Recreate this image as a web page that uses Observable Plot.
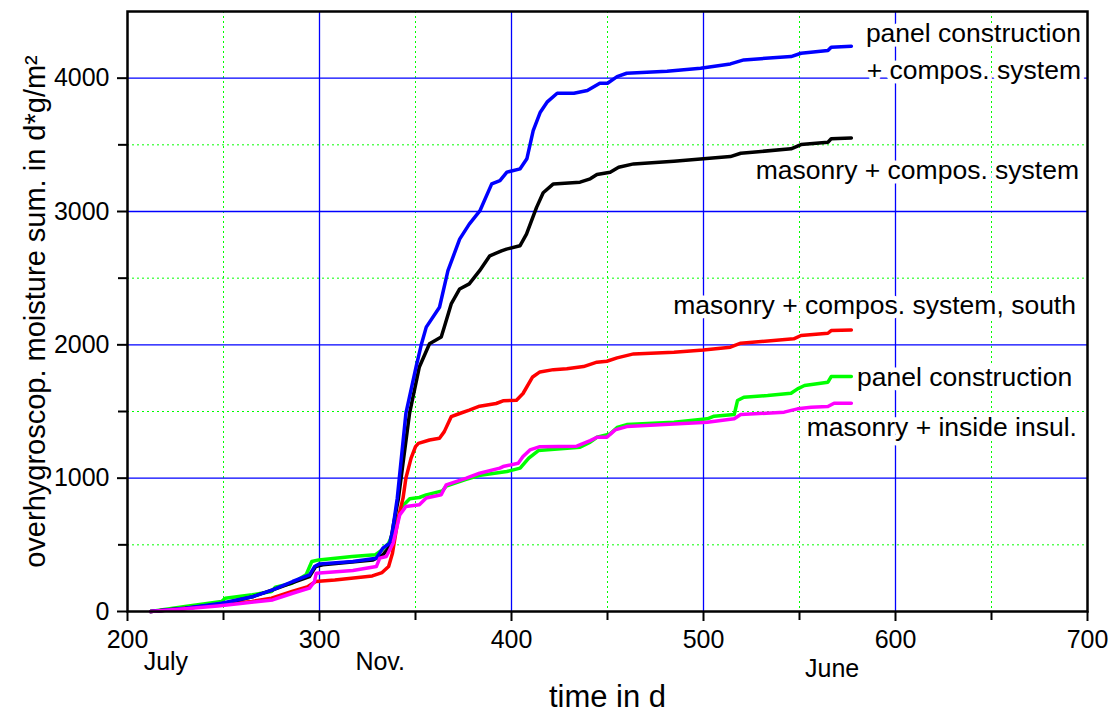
<!DOCTYPE html>
<html>
<head>
<meta charset="utf-8">
<script src="https://cdn.jsdelivr.net/npm/d3@7"></script>
<script src="https://cdn.jsdelivr.net/npm/@observablehq/plot@0.6"></script>
<style>
  html, body { margin: 0; padding: 0; background: #fff; }
  #chart { width: 1110px; height: 715px; }
</style>
</head>
<body>
<div id="chart"></div>
<script>
// ---- data ----
const xMajorTicks = [200, 300, 400, 500, 600, 700];
const xMinorTicks = [250, 350, 450, 550, 650];
const yMajorTicks = [0, 1000, 2000, 3000, 4000];
const yMinorTicks = [500, 1500, 2500, 3500];

const seriesNames = [
  "panel construction + compos. system",
  "masonry + compos. system",
  "masonry + compos. system, south",
  "panel construction",
  "masonry + inside insul."
];
const seriesColors = ["#0000ff", "#000000", "#ff0000", "#00ff00", "#ff00ff"];

const panelComposite = [[212,0],[230,25],[249,62],[265,110],[275.6,162],[286,225],[294.8,275],[297.4,337],[300,357],[317.4,375],[329.6,400],[333,475],[336.6,512],[338,600],[340.5,850],[345,1486],[350.3,1834],[353,2000],[355.6,2133],[362.5,2282],[366.9,2556],[373,2793],[378,2905],[383.5,3004],[389.7,3207],[394,3232],[397.6,3295],[404.5,3320],[408,3395],[411.3,3607],[415,3745],[418.5,3820],[423.8,3887],[432.5,3887],[439.5,3907],[446,3962],[450,3962],[455,4012],[460,4037],[481,4052],[498.5,4075],[514,4107],[521,4137],[545.6,4162],[550.8,4187],[564.8,4207],[566.5,4232],[577,4240]];

const masonryComposite = [[212,0],[230,22],[248.9,57],[265,110],[275.6,162],[286,217],[294.8,262],[298,337],[301.7,350],[327.9,387],[333,425],[336.6,487],[338.5,650],[341,838],[346.9,1486],[352,1834],[357.3,2008],[363.4,2058],[365,2133],[368.6,2307],[373,2419],[378,2457],[383.4,2556],[388.7,2668],[394.8,2705],[397.4,2718],[404.4,2743],[407.8,2830],[413,3029],[416.5,3141],[421.8,3207],[435.7,3220],[441,3245],[444.5,3277],[451.4,3295],[455.8,3332],[463.6,3357],[484.6,3377],[500,3395],[514,3412],[519.4,3437],[545.6,3470],[550.8,3502],[564.8,3520],[566.5,3545],[577,3552]];

const masonryCompositeSouth = [[212,0],[230,25],[247,50],[264.8,75],[275,100],[285.7,150],[294,187],[298,225],[308,237],[327.5,267],[332.6,292],[336,337],[338,437],[341,700],[343.5,850],[345,1000],[347.7,1150],[350,1237],[351.5,1261],[357.3,1286],[362.5,1299],[365,1349],[368.6,1461],[373,1485],[378,1510],[383.4,1540],[392,1560],[395.6,1580],[402.6,1585],[406,1635],[411,1759],[414.8,1797],[421.8,1814],[428.8,1820],[437.5,1837],[444.5,1870],[449.7,1877],[455,1902],[463.6,1932],[484.6,1945],[500,1962],[514,1982],[519.4,2012],[547,2045],[550.8,2070],[564.8,2087],[566.5,2107],[577,2112]];

const panelPlain = [[212,0],[230,37],[249,75],[250.9,100],[265,125],[275,150],[277,182],[285.7,212],[293,275],[296,375],[299.6,387],[317,412],[329,425],[332.6,462],[336,512],[339.7,637],[343,787],[347,845],[352,855],[355.6,875],[364,905],[366,940],[376,990],[383,1020],[393,1040],[397.6,1050],[404.5,1075],[409,1150],[414,1207],[435.7,1232],[441,1270],[444.5,1307],[451.4,1332],[455,1380],[460,1402],[484.6,1420],[502,1445],[505.5,1465],[516,1477],[517.7,1582],[521,1607],[533.4,1620],[545.6,1637],[549,1670],[552.6,1695],[564.8,1720],[566.5,1762],[577,1762]];

const masonryInside = [[212,0],[230,20],[247,42],[260,62],[275.6,87],[286,137],[294.8,175],[297.4,225],[298.3,287],[317.4,307],[329.6,337],[331.4,400],[334.8,412],[338.3,512],[341.8,725],[345,787],[352,800],[355.6,851],[363.4,875],[366,950],[376.5,1000],[383.4,1037],[393.9,1075],[395.6,1087],[403.5,1112],[406,1162],[409.6,1212],[414.8,1236],[434,1240],[441,1282],[444.5,1307],[449.7,1307],[454,1362],[460,1387],[484.6,1407],[502,1420],[516,1445],[519.4,1477],[542,1495],[549,1520],[556,1532],[564.8,1537],[568,1562],[577,1562]];

// curve labels (text, anchor day at right end, value)
const labelTexts = ["panel construction", "+ compos. system", "masonry + compos. system", "masonry + compos. system, south", "panel construction", "masonry + inside insul."];
const labelDays  = [696.6, 696.6, 695.6, 694, 692, 694.5];
const labelValues = [4335, 4058, 3308, 2296, 1756, 1381];

// month annotations under the x axis
const monthTexts = ["July", "Nov.", "June"];
const monthDays = [220, 331.6, 567];
const monthRow = [0, 0, 1];

const xTitle = "time in d";
const yTitle = "overhygroscop. moisture sum. in d*g/m²";

// ---- build tables ----
const drawOrder = [3, 2, 1, 0, 4];
const allSeries = [panelComposite, masonryComposite, masonryCompositeSouth, panelPlain, masonryInside];
const labels = labelTexts.map((t, i) => ({text: t, x: labelDays[i], y: labelValues[i]}));
const months = monthTexts.map((t, i) => ({text: t, x: monthDays[i], row: monthRow[i]}));

const font = "'Liberation Sans', Arial, Helvetica, sans-serif";

const lineMarks = drawOrder.map(i =>
  Plot.line(allSeries[i].map(([d, v]) => ({d, v})), {
    x: "d", y: "v", stroke: seriesColors[i], strokeWidth: 3.5,
    strokeLinejoin: "round", strokeLinecap: "round"
  })
);

const chart = Plot.plot({
  width: 1110,
  height: 715,
  marginLeft: 127,
  marginRight: 23,
  marginTop: 11,
  marginBottom: 104,
  style: {fontFamily: font, background: "#fff", color: "#000", overflow: "visible"},
  x: {domain: [200, 700]},
  y: {domain: [0, 4500]},
  marks: [
    Plot.gridX(xMinorTicks, {stroke: "#00ff00", strokeOpacity: 1, strokeWidth: 1, strokeDasharray: "2,3"}),
    Plot.gridY(yMinorTicks, {stroke: "#00ff00", strokeOpacity: 1, strokeWidth: 1, strokeDasharray: "2,3"}),
    Plot.gridX(xMajorTicks.slice(1, -1), {stroke: "#0000ff", strokeOpacity: 1, strokeWidth: 1.3}),
    Plot.gridY(yMajorTicks.slice(1), {stroke: "#0000ff", strokeOpacity: 1, strokeWidth: 1.3}),
    ...lineMarks,
    Plot.text(labels, {
      x: "x", y: "y", text: "text", textAnchor: "end",
      fontSize: 26.5, fill: "#000", stroke: "#fff", strokeWidth: 9, paintOrder: "stroke"
    }),
    Plot.frame({stroke: "#000", strokeWidth: 2.5}),
    Plot.axisX(xMajorTicks, {tickSize: 10, tickPadding: 9, fontSize: 25, strokeWidth: 2, label: null, tickFormat: d => String(d)}),
    Plot.axisX(xMinorTicks, {tickSize: 9, strokeWidth: 2, label: null, tickFormat: () => ""}),
    Plot.axisY(yMajorTicks, {tickSize: 10, tickPadding: 8, fontSize: 25, strokeWidth: 2, label: null, tickFormat: d => String(d)}),
    Plot.axisY(yMinorTicks, {tickSize: 9, strokeWidth: 2, label: null, tickFormat: () => ""}),
    Plot.text(months.filter(m => m.row === 0), {x: "x", text: "text", frameAnchor: "bottom", dy: 58, fontSize: 25}),
    Plot.text(months.filter(m => m.row === 1), {x: "x", text: "text", frameAnchor: "bottom", dy: 65, fontSize: 25}),
    Plot.text([xTitle], {text: d => d, frameAnchor: "bottom", dy: 95, fontSize: 31}),
    Plot.text([yTitle], {text: d => d, frameAnchor: "left", textAnchor: "middle", rotate: -90, dx: -92, fontSize: 29})
  ]
});
document.getElementById("chart").appendChild(chart);
</script>
</body>
</html>
